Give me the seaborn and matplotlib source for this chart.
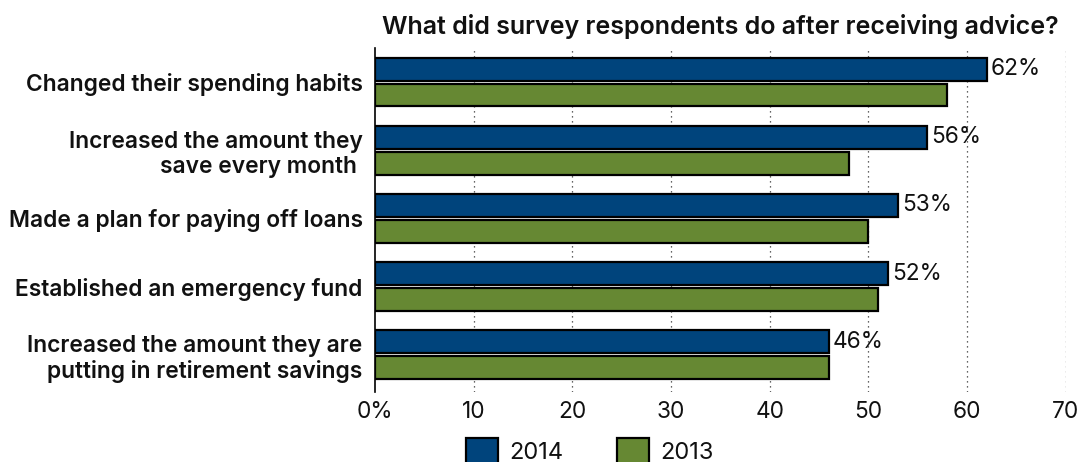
import matplotlib
matplotlib.use('Agg')
import matplotlib.pyplot as plt
import pandas as pd
import seaborn as sns

categories = ['Changed their spending habits',
              'Increased the amount they\nsave every month ',
              'Made a plan for paying off loans',
              'Established an emergency fund',
              'Increased the amount they are\nputting in retirement savings']
vals_2014 = [62, 56, 53, 52, 46]
vals_2013 = [58, 48, 50, 51, 46]
years = ['2014', '2013']
colors = ['#00447c', '#668833']

df = pd.DataFrame({
    'category': categories * 2,
    'value': vals_2014 + vals_2013,
    'year': [years[0]] * 5 + [years[1]] * 5,
})

sns.set_style('white')
plt.rcParams['font.family'] = ['Inter', 'DejaVu Sans']
plt.rcParams['text.color'] = '#111111'
plt.rcParams['xtick.color'] = '#111111'
plt.rcParams['ytick.color'] = '#111111'

fig = plt.figure(figsize=(10.84, 4.62), dpi=100)
ax = fig.add_axes([0.346, 0.151, 0.637, 0.745])

sns.barplot(data=df, y='category', x='value', hue='year', orient='h',
            palette=colors, hue_order=years, width=0.76, gap=0.12,
            saturation=1, edgecolor='black', linewidth=1.6, ax=ax)

# labels only on 2014 bars
ax.bar_label(ax.containers[0], labels=[f'{v}%' for v in vals_2014],
             padding=3, fontsize=16.3)

ax.set_xlim(0, 70)
ax.set_xticks(range(0, 71, 10))
ax.set_xticklabels(['0%'] + [str(t) for t in range(10, 71, 10)], fontsize=16.3)
ax.tick_params(axis='x', length=0, pad=6)
ax.tick_params(axis='y', length=0, pad=9)
for lbl in ax.get_yticklabels():
    lbl.set_fontsize(16.4)
    lbl.set_fontweight('semibold')
    lbl.set_horizontalalignment('right')
    lbl.set_multialignment('right')

for x in range(10, 71, 10):
    ax.axvline(x, color='#333333', linestyle=(0, (1, 3)), linewidth=0.9, zorder=0)

for s in ['top', 'right', 'bottom']:
    ax.spines[s].set_visible(False)
ax.spines['left'].set_color('black')
ax.spines['left'].set_linewidth(1.2)
ax.set_xlabel('')
ax.set_ylabel('')
ax.set_ylim(4.55, -0.5)

ax.set_title('What did survey respondents do after receiving advice?',
             fontsize=18, fontweight='semibold', pad=10)

ax.legend(loc='center', bbox_to_anchor=(0.544, 0.024),
          bbox_transform=fig.transFigure, ncol=2, frameon=False,
          fontsize=17, handlelength=1.36, handleheight=1.3,
          columnspacing=2.3, handletextpad=0.45)

fig.savefig('out.png', dpi=100)
